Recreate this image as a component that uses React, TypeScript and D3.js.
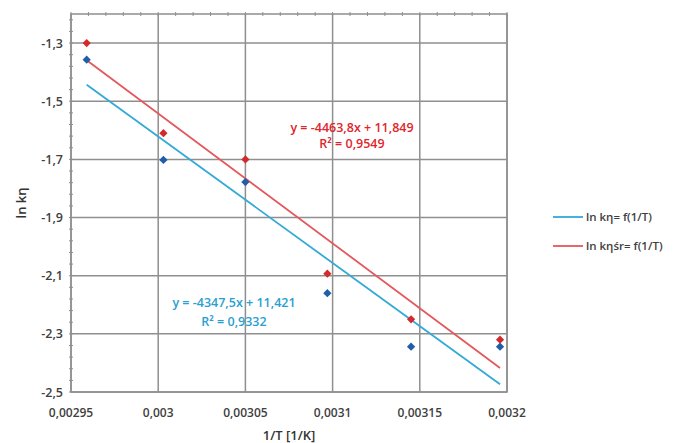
import React from "react";
import * as d3 from "d3";

// data
const invT = [0.002959, 0.003003, 0.00305, 0.003097, 0.003145, 0.003196];
const lnK = [-1.357, -1.702, -1.778, -2.16, -2.344, -2.344];
const lnKsr = [-1.3, -1.61, -1.7, -2.093, -2.25, -2.32];

// trendline equations shown on the chart
const fitK = { a: -4347.5, b: 11.421, eq: "y = -4347,5x + 11,421", r2: "R² = 0,9332" };
const fitKsr = { a: -4463.8, b: 11.849, eq: "y = -4463,8x + 11,849", r2: "R² = 0,9549" };

const xTicks = [0.00295, 0.003, 0.00305, 0.0031, 0.00315, 0.0032];
const yTicks = [-1.3, -1.5, -1.7, -1.9, -2.1, -2.3, -2.5];

const legendItems = [
  { label: "ln kη= f(1/T)", color: "#33a9d6" },
  { label: "ln kηśr= f(1/T)", color: "#e5575c" },
];

const W = 677;
const H = 443;
const margin = { top: 14, right: 170, bottom: 51, left: 71 };

const font = "'Open Sans', 'DejaVu Sans', sans-serif";
const fmt = (v: number) => String(+v.toFixed(6)).replace(".", ",");

export default function App() {
  const x = d3
    .scaleLinear()
    .domain([0.00295, 0.0032])
    .range([margin.left, W - margin.right]);
  const y = d3
    .scaleLinear()
    .domain([-2.5, -1.2])
    .range([H - margin.bottom, margin.top]);

  const [x0, x1] = x.range();
  const [yb, yt] = y.range();

  const xMinor = d3.range(0.00295, 0.0032 + 1e-9, 0.00001);
  const yMinor = d3.range(-2.5, -1.2 + 1e-9, 0.04);

  const xs = [invT[0], invT[invT.length - 1]];
  const fitPath = (f: { a: number; b: number }) =>
    d3
      .line<number>()
      .x((d) => x(d))
      .y((d) => y(f.a * d + f.b))(xs) || "";

  const marker = d3.symbol(d3.symbolSquare, 34)() || "";

  const gridColor = "#8f8f8f";
  const tickText = "#404040";

  return (
    <svg width={W} height={H} style={{ position: "absolute", left: 0, top: 0, background: "#fff" }}>
      {/* grid */}
      {xTicks.map((t) => (
        <line key={"gx" + t} x1={x(t)} x2={x(t)} y1={yt} y2={yb} stroke={gridColor} strokeWidth={1.5} />
      ))}
      {yTicks.map((t) => (
        <line key={"gy" + t} x1={x0} x2={x1} y1={y(t)} y2={y(t)} stroke={gridColor} strokeWidth={1.5} />
      ))}
      <rect x={x0} y={yt} width={x1 - x0} height={yb - yt} fill="none" stroke={gridColor} strokeWidth={1.5} />

      {/* minor ticks */}
      {xMinor.map((t, i) => (
        <line key={"mx" + i} x1={x(t)} x2={x(t)} y1={yt - 2} y2={yt + 2} stroke={gridColor} strokeWidth={1} />
      ))}
      {yMinor.map((t, i) => (
        <line key={"my" + i} x1={x0 - 2} x2={x0 + 2} y1={y(t)} y2={y(t)} stroke={gridColor} strokeWidth={1} />
      ))}

      {/* tick labels */}
      {yTicks.map((t) => (
        <text key={"ly" + t} x={x0 - 8} y={y(t) + 4.5} textAnchor="end" fontFamily={font} fontSize={12.5} fontWeight={600} fill={tickText}>
          {fmt(t)}
        </text>
      ))}
      {xTicks.map((t) => (
        <text key={"lx" + t} x={x(t)} y={yb + 25} textAnchor="middle" fontFamily={font} fontSize={12} fontWeight={600} fill={tickText}>
          {fmt(t)}
        </text>
      ))}

      {/* axis titles */}
      <text x={(x0 + x1) / 2} y={H - 3} textAnchor="middle" fontFamily={font} fontSize={13} fontWeight={600} fill="#333">
        1/T [1/K]
      </text>
      <text
        transform={`translate(26,${(yt + yb) / 2}) rotate(-90)`}
        textAnchor="middle"
        fontFamily={font}
        fontSize={13}
        fontWeight={600}
        fill="#333"
      >
        ln kη
      </text>

      {/* trendlines */}
      <path d={fitPath(fitK)} fill="none" stroke={legendItems[0].color} strokeWidth={1.8} />
      <path d={fitPath(fitKsr)} fill="none" stroke={legendItems[1].color} strokeWidth={1.8} />

      {/* points */}
      {invT.map((t, i) => (
        <path key={"pb" + i} d={marker} transform={`translate(${x(t)},${y(lnK[i])}) rotate(45)`} fill="#1f5ea8" />
      ))}
      {invT.map((t, i) => (
        <path key={"pr" + i} d={marker} transform={`translate(${x(t)},${y(lnKsr[i])}) rotate(45)`} fill="#d42a2f" />
      ))}

      {/* equations */}
      <g fontFamily={font} fontSize={12.5} fontWeight={600} textAnchor="middle">
        <text x={352} y={132} fill="#e0262c">{fitKsr.eq}</text>
        <text x={352} y={148} fill="#e0262c">{fitKsr.r2}</text>
        <text x={234} y={307} fill="#2a9fd0">{fitK.eq}</text>
        <text x={234} y={326} fill="#2a9fd0">{fitK.r2}</text>
      </g>

      {/* legend */}
      {legendItems.map((d, i) => {
        const ly = 217 + i * 29;
        return (
          <g key={d.label}>
            <line x1={553} x2={583} y1={ly} y2={ly} stroke={d.color} strokeWidth={1.8} />
            <text x={586} y={ly + 4} fontFamily={font} fontSize={11.5} fontWeight={600} fill="#404040">
              {d.label}
            </text>
          </g>
        );
      })}
    </svg>
  );
}
